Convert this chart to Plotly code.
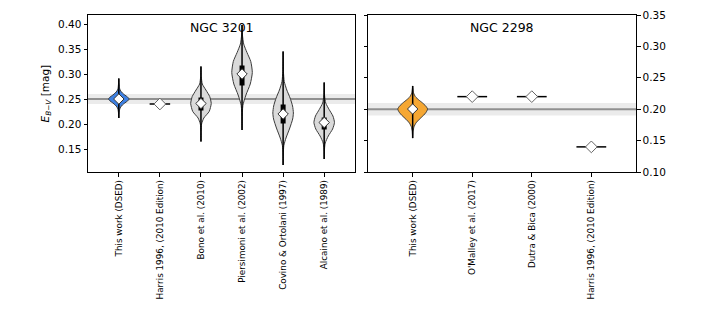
import plotly.graph_objects as go

# ---------------- data ----------------
# NGC 3201
cats_3201 = ["This work (DSED)", "Harris 1996, (2010 Edition)", "Bono et al. (2010)",
             "Piersimoni et al. (2002)", "Covino & Ortolani (1997)", "Alcaino et al. (1989)"]
median_3201 = [0.250, 0.240, 0.241, 0.300, 0.220, 0.203]
# violin info (None for single values)
q1_3201 = [0.246, None, 0.227, 0.277, 0.201, 0.189]
q3_3201 = [0.254, None, 0.253, 0.317, 0.239, 0.213]
min_3201 = [0.212, None, 0.165, 0.188, 0.118, 0.130]
max_3201 = [0.291, None, 0.315, 0.398, 0.345, 0.283]
ref_3201 = 0.25
ref_err_3201 = 0.01

# density profiles (value grid, relative width)
prof_y_dsed3201 = [0.212, 0.222, 0.229, 0.234, 0.238, 0.242, 0.246, 0.250, 0.254, 0.258, 0.262, 0.266, 0.271, 0.280, 0.291]
prof_w_dsed3201 = [0.0, 0.03, 0.08, 0.18, 0.35, 0.58, 0.85, 1.0, 0.85, 0.58, 0.35, 0.18, 0.08, 0.03, 0.0]
prof_y_bono = [0.165, 0.185, 0.200, 0.212, 0.225, 0.241, 0.255, 0.268, 0.280, 0.295, 0.315]
prof_w_bono = [0.0, 0.02, 0.06, 0.28, 0.80, 1.0, 0.85, 0.48, 0.13, 0.03, 0.0]
prof_y_pier = [0.188, 0.210, 0.237, 0.258, 0.280, 0.303, 0.325, 0.343, 0.360, 0.378, 0.398]
prof_w_pier = [0.0, 0.02, 0.08, 0.38, 0.80, 1.0, 0.85, 0.48, 0.16, 0.04, 0.0]
prof_y_cov = [0.118, 0.140, 0.157, 0.172, 0.192, 0.210, 0.222, 0.236, 0.252, 0.268, 0.285, 0.305, 0.325, 0.345]
prof_w_cov = [0.0, 0.02, 0.07, 0.28, 0.65, 0.93, 1.0, 0.92, 0.68, 0.36, 0.11, 0.03, 0.01, 0.0]
prof_y_alc = [0.130, 0.150, 0.162, 0.176, 0.190, 0.203, 0.216, 0.229, 0.242, 0.256, 0.270, 0.283]
prof_w_alc = [0.0, 0.03, 0.10, 0.40, 0.82, 1.0, 0.85, 0.48, 0.15, 0.04, 0.01, 0.0]
profiles_3201 = [(prof_y_dsed3201, prof_w_dsed3201), None, (prof_y_bono, prof_w_bono),
                 (prof_y_pier, prof_w_pier), (prof_y_cov, prof_w_cov), (prof_y_alc, prof_w_alc)]
fills_3201 = ["#3d80e3", None, "#dadada", "#dadada", "#dadada", "#dadada"]

# NGC 2298
cats_2298 = ["This work (DSED)", "O'Malley et al. (2017)", "Dutra & Bica (2000)",
             "Harris 1996, (2010 Edition)"]
median_2298 = [0.2003, 0.220, 0.220, 0.140]
q1_2298 = [0.197, None, None, None]
q3_2298 = [0.204, None, None, None]
min_2298 = [0.154, None, None, None]
max_2298 = [0.237, None, None, None]
ref_2298 = 0.20
ref_err_2298 = 0.01
prof_y_dsed2298 = [0.154, 0.165, 0.172, 0.178, 0.184, 0.190, 0.195, 0.2003, 0.205, 0.210, 0.215, 0.220, 0.226, 0.237]
prof_w_dsed2298 = [0.0, 0.03, 0.09, 0.22, 0.45, 0.72, 0.9, 1.0, 0.88, 0.66, 0.40, 0.18, 0.06, 0.0]
profiles_2298 = [(prof_y_dsed2298, prof_w_dsed2298), None, None, None]
fills_2298 = ["#f5a733", None, None, None]

yticks_3201 = [0.15, 0.20, 0.25, 0.30, 0.35, 0.40]
yticks_2298 = [0.10, 0.15, 0.20, 0.25, 0.30, 0.35]

# ---------------- figure ----------------
W, H = 706, 314
fig = go.Figure()
HALF = 0.25


def add_panel(xa, ya, medians, q1, q3, mins, maxs, profiles, fills):
    for i, med in enumerate(medians):
        prof = profiles[i]
        if prof is not None:
            py, pw = prof
            xs = [i + HALF * w for w in pw] + [i - HALF * w for w in reversed(pw)]
            ys = list(py) + list(reversed(py))
            fig.add_trace(go.Scatter(x=xs, y=ys, xaxis=xa, yaxis=ya, mode="lines",
                                     fill="toself", fillcolor=fills[i],
                                     line=dict(color="#3a3a3a", width=1, shape="spline", smoothing=0.6),
                                     hoverinfo="skip", showlegend=False))
            fig.add_trace(go.Scatter(x=[i, i], y=[mins[i], maxs[i]], xaxis=xa, yaxis=ya, mode="lines",
                                     line=dict(color="black", width=1.5), showlegend=False))
            fig.add_trace(go.Scatter(x=[i, i], y=[q1[i], q3[i]], xaxis=xa, yaxis=ya, mode="lines",
                                     line=dict(color="black", width=5), showlegend=False))
            fig.add_trace(go.Scatter(x=[i], y=[med], xaxis=xa, yaxis=ya, mode="markers",
                                     marker=dict(symbol="diamond", size=8, color="white",
                                                 line=dict(color="#333333", width=1)),
                                     showlegend=False))
        else:
            fig.add_trace(go.Scatter(x=[i - HALF, i + HALF], y=[med, med], xaxis=xa, yaxis=ya,
                                     mode="lines", line=dict(color="black", width=1.5),
                                     showlegend=False))
            fig.add_trace(go.Scatter(x=[i], y=[med], xaxis=xa, yaxis=ya, mode="markers",
                                     marker=dict(symbol="diamond", size=9, color="white",
                                                 line=dict(color="#666666", width=1)),
                                     showlegend=False))


add_panel("x", "y", median_3201, q1_3201, q3_3201, min_3201, max_3201, profiles_3201, fills_3201)
add_panel("x2", "y2", median_2298, q1_2298, q3_2298, min_2298, max_2298, profiles_2298, fills_2298)

# reference bands
for xr, yr, ref, err in [("x", "y", ref_3201, ref_err_3201), ("x2", "y2", ref_2298, ref_err_2298)]:
    fig.add_shape(type="rect", xref=xr + " domain", yref=yr, x0=0, x1=1, y0=ref - err, y1=ref + err,
                  fillcolor="rgba(0,0,0,0.08)", line=dict(width=0), layer="below")
    fig.add_shape(type="line", xref=xr + " domain", yref=yr, x0=0, x1=1, y0=ref, y1=ref,
                  line=dict(color="rgba(128,128,128,0.85)", width=2), layer="below")

FONT = "DejaVu Sans"
ydom = [1 - 172 / H, 1 - 15 / H]
axis_common = dict(showline=True, linecolor="black", linewidth=1, ticks="outside", ticklen=3.5,
                   tickwidth=1, tickcolor="black", showgrid=False, zeroline=False, automargin=False)

fig.update_layout(
    width=W, height=H, margin=dict(l=0, r=0, t=0, b=0, pad=0),
    paper_bgcolor="white", plot_bgcolor="white",
    font=dict(family=FONT, color="black"),
    showlegend=False,
    xaxis=dict(domain=[88 / W, 355 / W], range=[-0.75, len(cats_3201) - 0.25],
               tickvals=list(range(len(cats_3201))), ticktext=cats_3201, tickangle=-90,
               tickfont=dict(size=8.8, family=FONT), mirror=True, anchor="y", **axis_common),
    yaxis=dict(domain=ydom, range=[0.104, 0.418], tickvals=yticks_3201, tickformat=".2f",
               tickfont=dict(size=10.5, family=FONT), mirror=True, anchor="x", **axis_common),
    xaxis2=dict(domain=[368 / W, 636 / W], range=[-0.75, len(cats_2298) - 0.25],
                tickvals=list(range(len(cats_2298))), ticktext=cats_2298, tickangle=-90,
                tickfont=dict(size=8.8, family=FONT), mirror=True, anchor="y2", **axis_common),
    yaxis2=dict(domain=ydom, range=[0.10, 0.35], tickvals=yticks_2298, tickformat=".2f",
                tickfont=dict(size=10.5, family=FONT), side="right", mirror="ticks", anchor="x2",
                **axis_common),
)

fig.add_annotation(text="NGC 3201", xref="paper", yref="paper", x=221.5 / W, y=1 - 28 / H,
                   xanchor="center", yanchor="middle",
                   showarrow=False, font=dict(size=12.5, family=FONT))
fig.add_annotation(text="NGC 2298", xref="paper", yref="paper", x=502 / W, y=1 - 28 / H,
                   xanchor="center", yanchor="middle",
                   showarrow=False, font=dict(size=12.5, family=FONT))
fig.add_annotation(text="<i>E</i><sub><i>B\u2212V</i></sub> [mag]", xref="paper", yref="paper",
                   x=45 / W, y=1 - 93.5 / H, xanchor="center", yanchor="middle", textangle=-90,
                   showarrow=False, font=dict(size=10.5, family=FONT))

fig.write_html("out.html", config={"displayModeBar": False},
               post_script="document.body.style.margin='0px';")
